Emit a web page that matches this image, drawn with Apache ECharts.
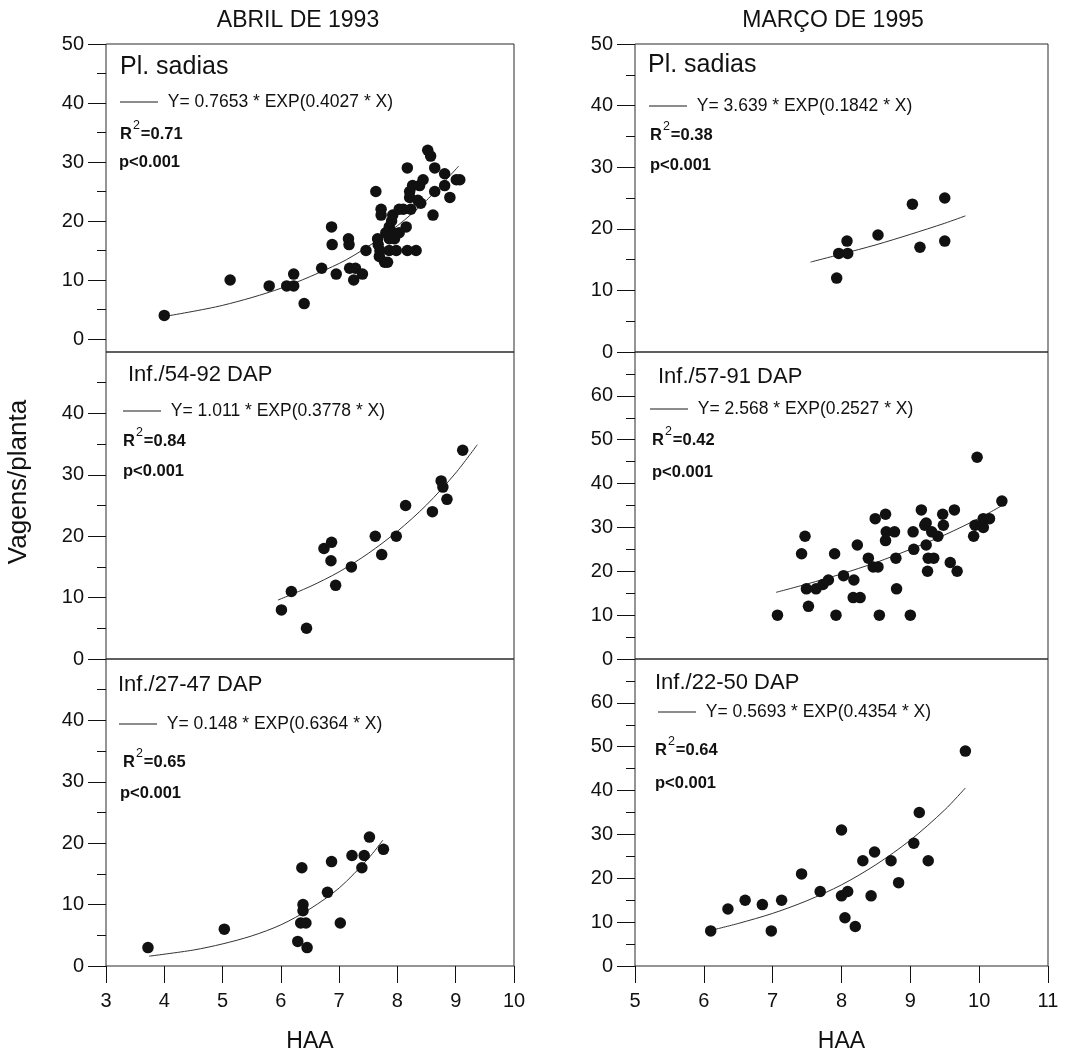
<!DOCTYPE html>
<html>
<head>
<meta charset="utf-8">
<script src="https://cdn.jsdelivr.net/npm/echarts@6/dist/echarts.min.js"></script>
<style>
html,body{margin:0;padding:0;background:#fff;}
#chart{width:1067px;height:1056px;}
</style>
</head>
<body>
<div id="chart"></div>
<script>
// ---------------- DATA ----------------
const colTitles = ['ABRIL DE 1993', 'MARÇO DE 1995'];
const yAxisTitle = 'Vagens/planta';
const xAxisTitle = 'HAA';
const leftXRange = [3, 10];
const rightXRange = [5, 11];
const panelLabels = ['Pl. sadias', 'Pl. sadias', 'Inf./54-92 DAP', 'Inf./57-91 DAP', 'Inf./27-47 DAP', 'Inf./22-50 DAP'];
const equations = [
  'Y= 0.7653 * EXP(0.4027 * X)',
  'Y= 3.639 * EXP(0.1842 * X)',
  'Y= 1.011 * EXP(0.3778 * X)',
  'Y= 2.568 * EXP(0.2527 * X)',
  'Y= 0.148 * EXP(0.6364 * X)',
  'Y= 0.5693 * EXP(0.4354 * X)'
];
const r2Values = ['0.71', '0.38', '0.84', '0.42', '0.65', '0.64'];
const pValues = ['p<0.001', 'p<0.001', 'p<0.001', 'p<0.001', 'p<0.001', 'p<0.001'];
const yMaxValues = [50, 50, 50, 70, 50, 70];
const leftMidTickValues = [0, 10, 20, 30, 40];

// Abril 1993 - Pl. sadias
const A_X = [4.0,5.13,5.8,6.1,6.22,6.22,6.4,6.7,6.87,6.88,6.95,7.16,7.17,7.18,7.25,7.28,7.4,7.46,7.63,7.66,7.67,7.69,7.72,7.72,7.78,7.83,7.86,7.8,7.86,7.92,7.92,7.95,7.98,8.03,8.1,8.15,8.17,8.17,8.21,8.21,8.23,8.26,8.32,8.35,8.38,8.44,8.4,8.52,8.57,8.61,8.64,8.64,8.81,8.81,8.9,9.01,9.07,7.86,8.03,7.7,7.9];
const A_Y = [4,10,9,9,9,11,6,12,19,16,11,17,16,12,10,12,11,15,25,17,16,14,22,21,13,13,15,18,19,21,18,17,15,22,22,19,29,15,24,25,22,26,15,23.5,26,27,23,32,31,21,29,25,28,26,24,27,27,17,18,15,20];
const A_FIT_X = [4.05,5,6,7,7.5,8,8.5,9.05];
const A_FIT_Y = [3.9,5.7,8.6,12.8,15.7,19.2,23.5,29.3];

// Março 1995 - Pl. sadias
const B_X = [7.93,7.96,8.08,8.09,8.53,9.03,9.14,9.5,9.5];
const B_Y = [12,16,18,16,19,24,17,18,25];
const B_FIT_X = [7.55,8,8.5,9,9.5,9.8];
const B_FIT_Y = [14.6,15.9,17.4,19.1,20.9,22.1];

// Abril 1993 - Inf./54-92 DAP
const C_X = [6.01,6.18,6.44,6.74,6.87,6.86,6.94,7.21,7.62,7.73,7.98,8.14,8.6,8.75,8.78,8.85,9.12];
const C_Y = [8,11,5,18,19,16,12,15,20,17,20,25,24,29,28,26,34];
const C_FIT_X = [5.95,6.5,7,7.5,8,8.5,9,9.37];
const C_FIT_Y = [9.6,11.8,14.2,17.2,20.8,25.1,30.3,34.9];

// Março 1995 - Inf./57-91 DAP
const D_X = [7.07,7.47,7.42,7.49,7.52,7.63,7.73,7.81,7.9,7.92,8.03,8.18,8.17,8.27,8.23,8.39,8.46,8.53,8.49,8.64,8.64,8.65,8.77,8.55,8.79,8.8,9.0,9.04,9.05,9.16,9.21,9.23,9.23,9.25,9.26,9.34,9.31,9.4,9.48,9.47,9.58,9.64,9.68,9.92,9.94,9.97,10.06,10.06,10.15,10.33];
const D_Y = [10,28,24,16,12,16,17,18,24,10,19,18,14,14,26,23,21,21,32,33,27,29,29,10,23,16,10,29,25,34,30.5,31,26,20,23,23,29,28,30.5,33,22,34,20,28,30.5,46,30,32,32,36];
const D_FIT_X = [7.05,7.5,8,8.5,9,9.5,10,10.4];
const D_FIT_Y = [15.2,17.1,19.4,22.0,25.0,28.3,32.1,35.6];

// Abril 1993 - Inf./27-47 DAP
const E_X = [3.72,5.03,6.29,6.36,6.38,6.38,6.34,6.43,6.45,6.8,6.87,7.02,7.22,7.39,7.43,7.52,7.76];
const E_Y = [3,6,4,16,10,9,7,7,3,12,17,7,18,16,18,21,19];
const E_FIT_X = [3.74,4.5,5,5.5,6,6.5,7,7.5,7.75];
const E_FIT_Y = [1.6,2.6,3.6,4.9,6.7,9.3,12.7,17.5,20.5];

// Março 1995 - Inf./22-50 DAP
const F_X = [6.1,6.35,6.6,6.85,6.98,7.13,7.42,7.69,8.0,8.0,8.09,8.05,8.2,8.31,8.43,8.48,8.72,8.83,9.05,9.13,9.26,9.8];
const F_Y = [8,13,15,14,8,15,21,17,31,16,17,11,9,24,16,26,24,19,28,35,24,49];
const F_FIT_X = [6.15,6.5,7,7.5,8,8.5,9,9.5,9.8];
const F_FIT_Y = [8.3,9.7,12.0,14.9,18.5,23.1,28.7,35.6,40.6];

// ---------------- LAYOUT / STYLE ----------------
const FONT = '"Liberation Sans", Arial, Helvetica, sans-serif';
const INK = '#111111';
const FRAME = '#2b2b2b';
const LEFT = {left: 106, right: 553};
const RIGHT = {left: 635, right: 19};

const grids = [
  Object.assign({top: 44, height: 295, show: false}, LEFT),   // 0: A data
  Object.assign({top: 44, height: 308, show: true}, LEFT),    // 1: A frame
  Object.assign({top: 44, height: 308, show: true}, RIGHT),   // 2: B
  Object.assign({top: 352, height: 307, show: true}, LEFT),   // 3: C
  Object.assign({top: 352, height: 307, show: true}, RIGHT),  // 4: D
  Object.assign({top: 659, height: 307, show: true}, LEFT),   // 5: E
  Object.assign({top: 659, height: 307, show: true}, RIGHT)   // 6: F
].map(g => Object.assign(g, {borderColor: FRAME, borderWidth: 1, backgroundColor: 'transparent', containLabel: false, outerBoundsMode: 'none'}));

const panels = [
  {grid: 0, X: A_X, Y: A_Y, FX: A_FIT_X, FY: A_FIT_Y, lab: [120, 67, 25], leg: [120, 103], r2: [120, 131], p: [119, 162]},
  {grid: 2, X: B_X, Y: B_Y, FX: B_FIT_X, FY: B_FIT_Y, lab: [648, 65, 25], leg: [649, 107], r2: [650, 132], p: [650, 165]},
  {grid: 3, X: C_X, Y: C_Y, FX: C_FIT_X, FY: C_FIT_Y, lab: [128, 375, 22], leg: [123, 412], r2: [123, 438], p: [123, 471]},
  {grid: 4, X: D_X, Y: D_Y, FX: D_FIT_X, FY: D_FIT_Y, lab: [658, 377, 22], leg: [650, 410], r2: [652, 437], p: [652, 472]},
  {grid: 5, X: E_X, Y: E_Y, FX: E_FIT_X, FY: E_FIT_Y, lab: [118, 685, 22], leg: [119, 725], r2: [123, 759], p: [120, 793]},
  {grid: 6, X: F_X, Y: F_Y, FX: F_FIT_X, FY: F_FIT_Y, lab: [655, 683, 22], leg: [658, 713], r2: [655, 747], p: [655, 783]}
];

const isLeftGrid = g => (g === 0 || g === 1 || g === 3 || g === 5);
const isBottomGrid = g => (g === 5 || g === 6);

const xAxes = grids.map((g, i) => {
  const range = isLeftGrid(i) ? leftXRange : rightXRange;
  const base = {type: 'value', gridIndex: i, min: range[0], max: range[1], interval: 1};
  if (!isBottomGrid(i)) return Object.assign(base, {show: false});
  return Object.assign(base, {
    axisLine: {show: false},
    splitLine: {show: false},
    axisTick: {show: true, inside: false, length: 17, lineStyle: {color: INK, width: 1}},
    axisLabel: {fontSize: 20, margin: 25, color: INK, fontFamily: FONT},
    name: xAxisTitle, nameLocation: 'middle', nameGap: 64,
    nameTextStyle: {fontSize: 23, color: INK, fontFamily: FONT}
  });
});

const yAxes = grids.map((g, i) => {
  if (i === 1) return {type: 'value', gridIndex: 1, min: -2.2, max: 50, show: false};
  const pIdx = panels.findIndex(p => p.grid === i);
  const max = yMaxValues[pIdx];
  const showMax = (i === 0 || i === 2);
  const tick = {show: true, inside: false, length: 18, lineStyle: {color: INK, width: 1}};
  if (i === 3) tick.customValues = leftMidTickValues;
  return {
    type: 'value', gridIndex: i, min: 0, max: max, interval: 10,
    axisLine: {show: false},
    splitLine: {show: false},
    axisTick: tick,
    minorTick: {show: true, splitNumber: 2, length: 9, lineStyle: {color: INK, width: 1}},
    axisLabel: {fontSize: 20, margin: 22, color: INK, fontFamily: FONT, showMaxLabel: showMax, showMinLabel: true}
  };
});

const series = [];
const legends = [];
const graphics = [];

panels.forEach((p, k) => {
  series.push({
    type: 'scatter', name: panelLabels[k] + ' dados',
    xAxisIndex: p.grid, yAxisIndex: p.grid,
    symbol: 'circle', symbolSize: 11.5,
    itemStyle: {color: INK, opacity: 1},
    data: p.X.map((x, i) => [x, p.Y[i]]),
    z: 3
  });
  series.push({
    type: 'line', name: equations[k],
    xAxisIndex: p.grid, yAxisIndex: p.grid,
    symbol: 'none', showSymbol: false, smooth: 0.3,
    lineStyle: {color: '#333', width: 1},
    itemStyle: {color: '#333'},
    data: p.FX.map((x, i) => [x, p.FY[i]]),
    z: 2
  });
  legends.push({
    left: p.leg[0], top: p.leg[1] - 10, padding: 0,
    itemWidth: 38, itemHeight: 1, selectedMode: false,
    icon: 'rect',
    data: [{name: equations[k], icon: 'rect'}],
    formatter: n => ' ' + n,
    itemStyle: {color: '#1a1a1a', borderWidth: 0},
    textStyle: {fontSize: 17.5, color: INK, fontFamily: FONT}
  });
  graphics.push({
    type: 'text', x: p.lab[0], y: p.lab[1], silent: true,
    style: {text: panelLabels[k], fontSize: p.lab[2], fontFamily: FONT, fill: INK,
            textAlign: 'left', textVerticalAlign: 'middle', align: 'left', verticalAlign: 'middle'}
  });
  graphics.push({
    type: 'text', x: p.r2[0], y: p.r2[1], silent: true,
    style: {
      text: '{r|R}{s|2}{r|=' + r2Values[k] + '}',
      textAlign: 'left', textVerticalAlign: 'middle', align: 'left', verticalAlign: 'middle',
      rich: {
        r: {fontSize: 16.5, fontWeight: 'bold', fontFamily: FONT, fill: INK, verticalAlign: 'bottom'},
        s: {fontSize: 12.5, fontFamily: FONT, fill: INK, verticalAlign: 'top', padding: [0, 1, 10, 1]}
      }
    }
  });
  graphics.push({
    type: 'text', x: p.p[0], y: p.p[1], silent: true,
    style: {text: pValues[k], fontSize: 16.5, fontWeight: 'bold', fontFamily: FONT, fill: INK,
            textAlign: 'left', textVerticalAlign: 'middle', align: 'left', verticalAlign: 'middle'}
  });
});

graphics.push({
  type: 'text', x: 298, y: 21, silent: true,
  style: {text: colTitles[0], fontSize: 23, fontFamily: FONT, fill: INK,
          textAlign: 'center', textVerticalAlign: 'middle', align: 'center', verticalAlign: 'middle'}
});
graphics.push({
  type: 'text', x: 833, y: 21, silent: true,
  style: {text: colTitles[1], fontSize: 23, fontFamily: FONT, fill: INK,
          textAlign: 'center', textVerticalAlign: 'middle', align: 'center', verticalAlign: 'middle'}
});
graphics.push({
  type: 'text', x: 19, y: 482, rotation: Math.PI / 2, silent: true,
  style: {text: yAxisTitle, fontSize: 26, fontFamily: FONT, fill: INK,
          textAlign: 'center', textVerticalAlign: 'middle', align: 'center', verticalAlign: 'middle'}
});

const chart = echarts.init(document.getElementById('chart'), null, {renderer: 'canvas'});
chart.setOption({
  backgroundColor: '#ffffff',
  animation: false,
  textStyle: {fontFamily: FONT},
  grid: grids,
  xAxis: xAxes,
  yAxis: yAxes,
  legend: legends,
  series: series,
  graphic: graphics
});
</script>
</body>
</html>
